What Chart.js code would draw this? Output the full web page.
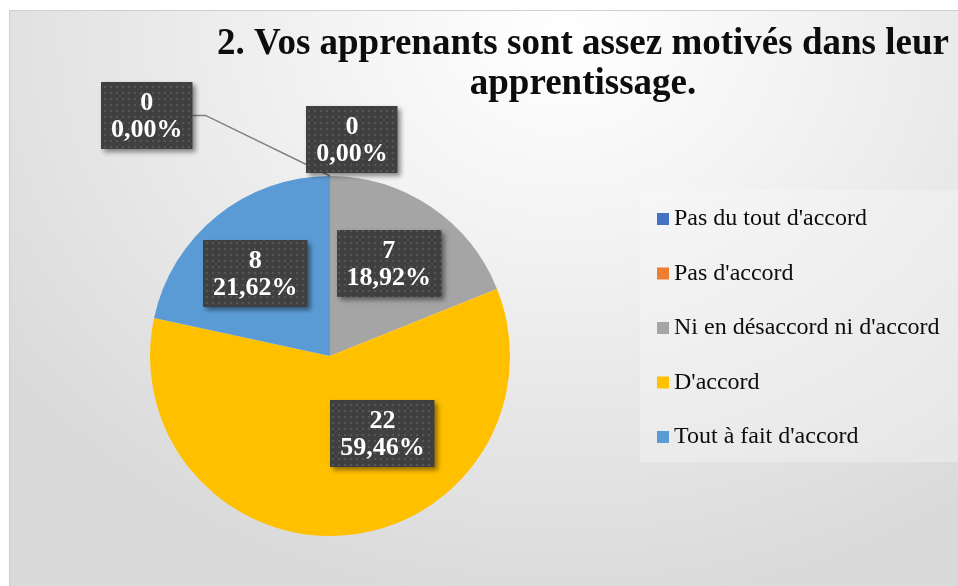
<!DOCTYPE html>
<html>
<head>
<meta charset="utf-8">
<script src="https://cdn.jsdelivr.net/npm/chart.js@4.4.1/dist/chart.umd.min.js"></script>
<style>
  html, body { margin: 0; padding: 0; background: #ffffff; overflow: hidden; }
  #frame {
    position: absolute; left: 9px; top: 10px; width: 970px; height: 600px;
    border: 1px solid #cfcfcf;
    background: radial-gradient(ellipse 70% 95% at 57% 4%, #ffffff 0%, #f3f3f3 35%, #dadada 100%);
  }
  #wrap { position: absolute; left: 0; top: 0; width: 958px; height: 586px; }
</style>
</head>
<body>
<div id="frame"></div>
<div id="wrap"><canvas id="pie"></canvas></div>
<script>

// data
var categories = ["Pas du tout d'accord", "Pas d'accord", "Ni en désaccord ni d'accord", "D'accord", "Tout à fait d'accord"];
var counts = [0, 0, 7, 22, 8];
var percents = ["0,00%", "0,00%", "18,92%", "59,46%", "21,62%"];
var colors = ['#4472C4', '#ED7D31', '#A5A5A5', '#FFC000', '#5B9BD5'];
var titleLines = ["2. Vos apprenants sont assez motivés dans leur", "apprentissage."];

// label placement: [angle from top in degrees, distance as fraction of radius]
var labelPlace = [[-37.3, 1.68], [5.8, 1.21], [32.4, 0.61], [145.8, 0.52], [317.9, 0.62]];

var serif = '"Liberation Serif", "Times New Roman", serif';

function dotPattern(ctx) {
  var c = document.createElement('canvas');
  c.width = 6; c.height = 6;
  var p = c.getContext('2d');
  p.fillStyle = '#404040';
  p.fillRect(0, 0, 6, 6);
  p.fillStyle = '#565656';
  p.fillRect(2, 2, 2, 2);
  return ctx.createPattern(c, 'repeat');
}

var titlePlugin = {
  id: 'titleText',
  afterDraw: function(chart) {
    var ctx = chart.ctx;
    ctx.save();
    ctx.fillStyle = '#0d0d0d';
    ctx.font = 'bold 37px ' + serif;
    ctx.textAlign = 'center';
    ctx.textBaseline = 'middle';
    ctx.fillText(titleLines[0], 583, 44);
    ctx.fillText(titleLines[1], 583, 84);
    ctx.restore();
  }
};

var legendPlugin = {
  id: 'sideLegend',
  beforeDraw: function(chart) {
    var ctx = chart.ctx;
    ctx.save();
    ctx.fillStyle = 'rgba(248,248,248,0.35)';
    ctx.fillRect(640, 190, 318, 272);
    ctx.font = '24px ' + serif;
    ctx.textBaseline = 'middle';
    chart.data.labels.forEach(function(lab, i) {
      var y = 219 + i * 54.5;
      ctx.fillStyle = chart.data.datasets[0].backgroundColor[i];
      ctx.fillRect(657, y - 6, 12, 12);
      ctx.fillStyle = '#0d0d0d';
      ctx.fillText(lab, 674, y);
    });
    ctx.restore();
  }
};

var labelPlugin = {
  id: 'boxLabels',
  afterDatasetsDraw: function(chart) {
    var ctx = chart.ctx;
    var meta = chart.getDatasetMeta(0);
    var pat = dotPattern(ctx);
    meta.data.forEach(function(arc, i) {
      var r = arc.outerRadius;
      var a = labelPlace[i][0] * Math.PI / 180;
      var cx = arc.x + Math.sin(a) * r * labelPlace[i][1];
      var cy = arc.y - Math.cos(a) * r * labelPlace[i][1];
      var l1 = String(counts[i]), l2 = percents[i];
      ctx.save();
      ctx.font = 'bold 26px ' + serif;
      var w = Math.max(ctx.measureText(l1).width, ctx.measureText(l2).width) + 20;
      var h = 67;
      var bx = Math.round(cx - w / 2), by = Math.round(cy - h / 2);

      // leader line for the label standing far from its slice
      if (labelPlace[i][1] > 1.5) {
        var sx = arc.x + Math.sin(arc.startAngle + Math.PI / 2) * r;
        var sy = arc.y - Math.cos(arc.startAngle + Math.PI / 2) * r;
        ctx.strokeStyle = '#7f7f7f';
        ctx.lineWidth = 1.5;
        ctx.beginPath();
        ctx.moveTo(bx + w, cy);
        ctx.lineTo(bx + w + 13, cy);
        ctx.lineTo(sx, sy);
        ctx.stroke();
      }

      ctx.shadowColor = 'rgba(0,0,0,0.45)';
      ctx.shadowBlur = 5;
      ctx.shadowOffsetX = 3;
      ctx.shadowOffsetY = 3;
      ctx.fillStyle = pat;
      ctx.fillRect(bx, by, w, h);
      ctx.shadowColor = 'transparent';
      ctx.fillStyle = '#ffffff';
      ctx.textAlign = 'center';
      ctx.textBaseline = 'middle';
      ctx.fillText(l1, cx, cy - 12);
      ctx.fillText(l2, cx, cy + 15);
      ctx.restore();
    });
  }
};

var ctx = document.getElementById('pie').getContext('2d');
var chart = new Chart(ctx, {
  type: 'pie',
  data: {
    labels: categories,
    datasets: [{
      data: counts,
      backgroundColor: colors,
      borderWidth: 0
    }]
  },
  options: {
    responsive: true,
    maintainAspectRatio: false,
    animation: false,
    layout: { padding: { left: 150, right: 448, top: 176, bottom: 50 } },
    plugins: {
      legend: { display: false },
      title: { display: false },
      tooltip: { enabled: false }
    }
  },
  plugins: [legendPlugin, labelPlugin, titlePlugin]
});
</script>
</body>
</html>
